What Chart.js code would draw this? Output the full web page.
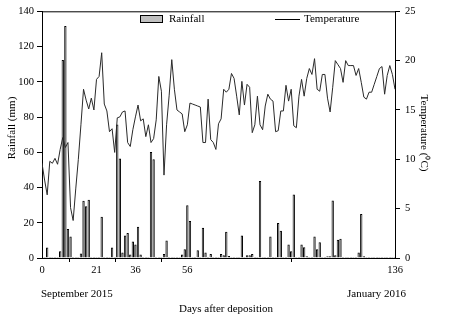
<!DOCTYPE html>
<html><head><meta charset="utf-8">
<script src="https://cdn.jsdelivr.net/npm/chart.js@4/dist/chart.umd.min.js"></script>
<style>html,body{margin:0;padding:0;background:#fff;}#wrap{width:451px;height:318px;position:relative;}</style>
</head><body><div id="wrap"><canvas id="c"></canvas></div>
<script>
// Days after deposition (daily)
const days = [
0,1,2,3,4,5,6,7,8,9,10,11,12,13,14,15,16,17,18,19,20,21,22,23,24,25,26,27,28,29,
30,31,32,33,34,35,36,37,38,39,40,41,42,43,44,45,46,47,48,49,50,51,52,53,54,55,56,57,58,59,
60,61,62,63,64,65,66,67,68,69,70,71,72,73,74,75,76,77,78,79,80,81,82,83,84,85,86,87,88,89,
90,91,92,93,94,95,96,97,98,99,100,101,102,103,104,105,106,107,108,109,110,111,112,113,114,115,116,117,118,119,
120,121,122,123,124,125,126,127,128,129,130,131,132,133,134,135,136];
// Rainfall (mm)
const rainfall = [
0,0,5.9,0,0,0,0,3.9,112.3,131.7,
16.4,12.2,0,0,0,2.6,32.5,29.3,33.0,0,
0,0,0,23.4,0,0,0,5.9,0,75.8,
56.4,3.1,12.7,14.2,2.0,9.4,7.7,17.7,2.0,0,
0,0,60.1,56.1,0,0,0,2.2,10.0,0,
0,0,0,0,2.0,5.0,29.9,21.0,0,0,
4.4,0,17.2,3.1,0,2.2,0,0,0,2.2,
1.5,14.9,1.2,0,0,0,0,12.7,0,1.5,
1.5,2.2,0,0,43.7,0,0,0,12.2,0,
0,19.9,15.5,0,0,7.7,3.9,36.1,0,0,
7.7,6.1,1.0,0,0,12.2,5.0,8.9,0,0,
1.0,1.0,32.6,1.5,10.3,10.9,0,0,0,0,
0,0,3.1,24.9,1.0,0,0,0,0,0,
0,0,0,0,0,0,0];
// Temperature (°C)
const temperature = [
9.6,7.9,6.4,9.8,9.6,10.1,9.5,11.0,12.2,11.2,
11.7,5.1,3.8,7.0,10.0,13.5,17.1,16.0,15.1,16.2,
15.0,18.1,18.4,20.8,15.6,14.9,12.8,13.1,10.7,14.2,
14.3,14.8,14.9,11.7,11.3,13.0,14.3,15.5,13.9,14.1,
12.3,13.5,11.7,12.1,14.0,18.4,16.9,8.4,13.5,16.5,
20.1,17.1,15.0,14.8,14.6,12.8,13.5,15.7,15.6,15.5,
15.4,15.3,11.7,11.7,16.1,12.0,11.7,11.0,13.6,14.1,
17.1,16.8,17.1,18.7,18.2,16.4,14.5,17.9,15.5,17.6,
17.3,12.7,13.5,16.4,13.5,13.0,15.4,16.6,16.1,15.9,
12.8,12.9,14.9,14.9,17.5,15.9,17.1,13.4,13.2,16.4,
18.1,16.4,18.2,19.2,18.6,20.2,17.1,16.9,18.6,18.6,
16.2,14.8,17.3,20.0,19.6,19.2,17.8,20.0,19.5,19.5,
19.5,18.5,19.2,17.8,16.3,16.1,16.8,16.8,17.6,18.4,
19.2,19.4,16.6,18.5,19.5,18.6,17.1];
const xTickValues = [0,21,36,56,136];
const seriesNames = ['Rainfall','Temperature'];
const leftTitle = 'Rainfall (mm)';
const rightTitle = 'Temperature (\u2070C)';
const xTitle = 'Days after deposition';
const startLabel = 'September 2015';
const endLabel = 'January 2016';

const FONT = "'Liberation Serif','Times New Roman',serif";
const tickFont = {family: FONT, size: 10.5};

const decor = {
  id: 'decor',
  afterDraw(chart) {
    const ctx = chart.ctx, a = chart.chartArea;
    ctx.save();
    // top frame line
    ctx.strokeStyle = '#000'; ctx.lineWidth = 1;
    ctx.beginPath(); ctx.moveTo(a.left, a.top + 0.5); ctx.lineTo(a.right, a.top + 0.5); ctx.stroke();
    ctx.fillStyle = '#000';
    ctx.font = "11px " + FONT;
    ctx.textBaseline = 'middle';
    // legend
    ctx.fillStyle = '#c0c0c0';
    ctx.fillRect(140, 15, 23, 7);
    ctx.strokeStyle = '#000';
    ctx.strokeRect(140.5, 15.5, 22, 7);
    ctx.fillStyle = '#000';
    ctx.textAlign = 'left';
    ctx.fillText(seriesNames[0], 169, 19.5);
    ctx.beginPath(); ctx.moveTo(275, 19.5); ctx.lineTo(300, 19.5); ctx.stroke();
    ctx.fillText(seriesNames[1], 304, 19.5);
    // bottom texts
    ctx.fillText(startLabel, 41, 294.5);
    ctx.textAlign = 'right';
    ctx.fillText(endLabel, 406, 294.5);
    ctx.textAlign = 'center';
    ctx.fillText(xTitle, 226, 309.5);
    // axis titles
    ctx.save(); ctx.translate(12, 128); ctx.rotate(-Math.PI/2);
    ctx.fillText(leftTitle, 0, 0); ctx.restore();
    ctx.save(); ctx.translate(424, 133); ctx.rotate(Math.PI/2);
    ctx.fillText(rightTitle, 0, 0); ctx.restore();
    ctx.restore();
  }
};

new Chart(document.getElementById('c'), {
  type: 'bar',
  data: {
    datasets: [
      {
        type: 'line', label: seriesNames[1], yAxisID: 'yT',
        data: days.map((d, i) => ({x: d, y: temperature[i]})),
        borderColor: '#2a2a2a', borderWidth: 1, pointRadius: 0, tension: 0, order: 0
      },
      {
        type: 'bar', label: seriesNames[0], yAxisID: 'yR',
        data: days.map((d, i) => ({x: d, y: rainfall[i]})),
        backgroundColor: '#c0c0c0', borderColor: '#000', borderWidth: 1,
        barPercentage: 0.9, categoryPercentage: 1.0, minBarLength: 1, order: 1
      }
    ]
  },
  options: {
    responsive: true, maintainAspectRatio: false, animation: false,
    layout: {padding: {top: 5, left: 0, right: 0, bottom: 0}},
    plugins: {legend: {display: false}, tooltip: {enabled: false}},
    scales: {
      x: {
        type: 'linear', min: 0, max: 136, offset: false,
        afterBuildTicks: s => { s.ticks = xTickValues.map(v => ({value: v})); },
        ticks: {color: '#000', font: tickFont, padding: 2, autoSkip: false, maxRotation: 0},
        grid: {drawOnChartArea: false, drawTicks: true, tickLength: 4, color: '#000'},
        border: {color: '#000', width: 1},
        afterFit: s => { s.height = 60; }
      },
      yR: {
        position: 'left', min: 0, max: 140,
        ticks: {stepSize: 20, color: '#000', font: tickFont, padding: 3},
        grid: {drawOnChartArea: false, drawTicks: true, tickLength: 5, color: '#000'},
        border: {color: '#000', width: 1},
        afterFit: s => { s.width = 42; }
      },
      yT: {
        position: 'right', min: 0, max: 25,
        ticks: {stepSize: 5, color: '#000', font: tickFont, padding: 5},
        grid: {drawOnChartArea: false, drawTicks: true, tickLength: 5, color: '#000'},
        border: {color: '#000', width: 1},
        afterFit: s => { s.width = 56; }
      }
    }
  },
  plugins: [decor]
});
</script>
</body></html>
